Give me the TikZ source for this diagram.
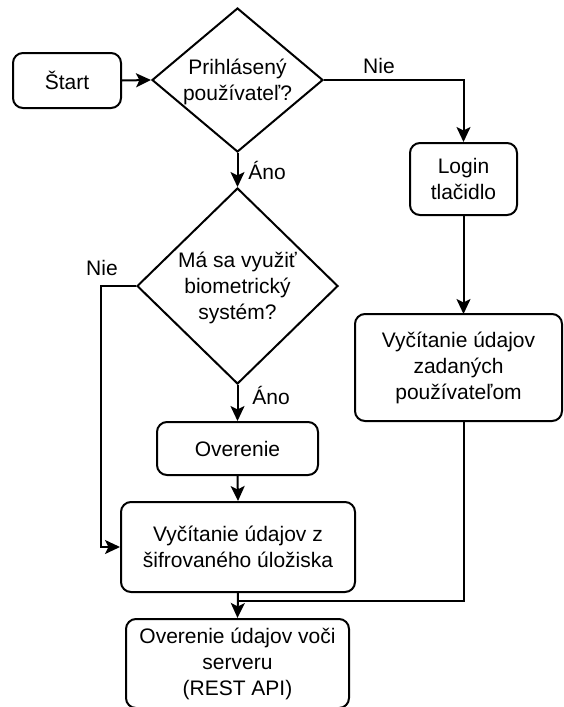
\documentclass[tikz,border=0pt]{standalone}
\usepackage{fontspec}
\setmainfont{Liberation Sans}
\usetikzlibrary{shapes.geometric,arrows.meta}
\begin{document}
\begin{tikzpicture}[x=1pt,y=-1pt,
  font=\fontsize{21}{26}\selectfont,
  every path/.style={line width=2pt},
  box/.style={draw, rounded corners=10pt, align=center, inner sep=0pt},
  dia/.style={draw, diamond, inner sep=0pt},
  txt/.style={align=center, inner sep=0pt},
  lbl/.style={inner sep=0pt},
  arr/.style={-{Stealth[length=15pt,width=14pt,inset=3.5pt]}}
]
\useasboundingbox (0,0) rectangle (563,707);
\node[box, minimum width=108pt, minimum height=55pt] (start) at (67,80.5) {Štart};
\node[dia, minimum width=171pt, minimum height=144pt] (d1) at (237.5,80) {};
\node[txt] (d1t) at (237.5,82) {Prihlásený\\používateľ?};
\node[box, minimum width=107pt, minimum height=72pt] (login) at (463.5,179) {Login\\tlačidlo};
\node[box, minimum width=207pt, minimum height=107pt] (rb) at (458.5,367.5) {Vyčítanie údajov\\zadaných\\používateľom};
\node[dia, minimum width=201pt, minimum height=196pt] (d2) at (237.5,286) {};
\node[txt] (d2t) at (237.5,288) {Má sa využiť\\biometrický\\systém?};
\node[box, minimum width=161pt, minimum height=53pt] (ov) at (237.5,448.5) {Overenie};
\node[box, minimum width=234pt, minimum height=90pt] (vz) at (238,547) {Vyčítanie údajov z\\šifrovaného úložiska};
\node[box, minimum width=223pt, minimum height=89pt] (api) at (237.5,663.5) {Overenie údajov voči\\serveru\\(REST API)};

\coordinate (c1) at (463.5,80);
\coordinate (c2) at (101,286);
\coordinate (c3) at (101,547);
\coordinate (rbs) at (463.5,421);
\coordinate (rbn) at (463.5,314);
\coordinate (c4) at (463.5,601);
\coordinate (c5) at (238,601);

\draw[arr] (start.east) -- (d1.west);
\draw[arr] (d1.east) -- (c1) -- (login.north);
\draw[arr] (d1.south) -- (d2.north);
\draw[arr] (d2.west) -- (c2) -- (c3) -- (vz.west);
\draw[arr] (d2.south) -- (ov.north);
\draw[arr] (ov.south) -- (vz.north);
\draw[arr] (login.south) -- (rbn);
\draw (rbs) -- (c4) -- (c5);
\draw[arr] (vz.south) -- (api.north);

\node[lbl] (l1) at (379,66) {Nie};
\node[lbl] (l2) at (267,170) {Áno};
\node[lbl] (l3) at (102,268) {Nie};
\node[lbl] (l4) at (271,395) {Áno};
\end{tikzpicture}
\end{document}
